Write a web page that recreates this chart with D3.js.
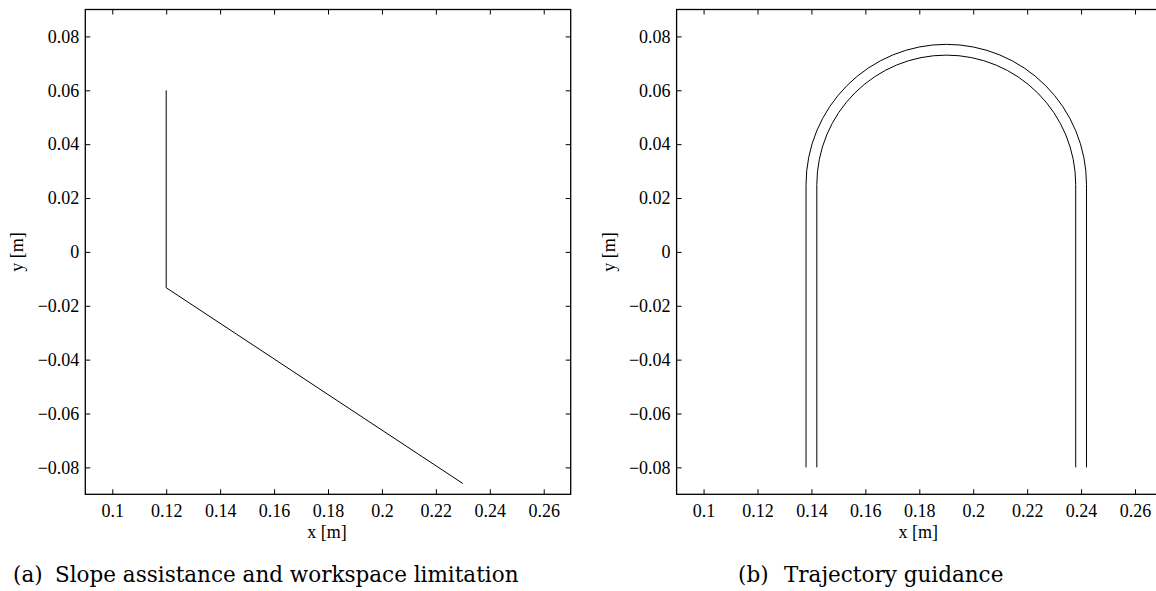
<!DOCTYPE html>
<html><head><meta charset="utf-8">
<script src="https://cdn.jsdelivr.net/npm/d3@7"></script>
<style>
body{margin:0;background:#fff;}
svg{display:block;}
text{fill:#000;}
</style></head>
<body>
<svg id="c" width="1156" height="591"></svg>
<script>
// ---- data ----
const xDomain = [0.09, 0.27];
const yDomain = [-0.09, 0.09];
const xTicks = [0.1, 0.12, 0.14, 0.16, 0.18, 0.2, 0.22, 0.24, 0.26];
const yTicks = [-0.08, -0.06, -0.04, -0.02, 0, 0.02, 0.04, 0.06, 0.08];
// panel (a): slope assistance / workspace limitation path
const slopeX = [0.12, 0.12, 0.23];
const slopeY = [0.06, -0.0133, -0.086];
// panel (b): trajectory guidance tube (two U-shaped boundaries)
const tubeCenterX = 0.19;
const tubeArcCenterY = 0.025;
const tubeBottomY = -0.08;
const tubeRadii = [0.052, 0.048];
const captions = ["(a)", "Slope assistance and workspace limitation", "(b)", "Trajectory guidance"];

// ---- layout ----
const svg = d3.select("#c");
const panels = [{left: 85.3, right: 570.7}, {left: 676.6, right: 1162}];
const plotTop = 9.5, plotBottom = 494.3;
const tickFont = "'Liberation Serif', 'Times New Roman', serif";
const capFont = "'DejaVu Serif', serif";

function fmt(v){
  if (v === 0) return "0";
  let s = String(+v.toFixed(2));
  return s.replace("-", "\u2212");
}

panels.forEach((p, i) => {
  const x = d3.scaleLinear().domain(xDomain).range([p.left, p.right]);
  const y = d3.scaleLinear().domain(yDomain).range([plotBottom, plotTop]);
  const g = svg.append("g");

  const tl = 5;
  const ax = d3.axisBottom(x).tickValues(xTicks).tickSize(-tl).tickFormat(fmt).tickPadding(10);
  const gx = g.append("g").attr("transform", `translate(0,${plotBottom})`).call(ax);
  const ay = d3.axisLeft(y).tickValues(yTicks).tickSize(-tl).tickFormat(fmt).tickPadding(6);
  const gy = g.append("g").attr("transform", `translate(${p.left},0)`).call(ay);
  const at = d3.axisTop(x).tickValues(xTicks).tickSize(-tl).tickFormat("");
  const gt = g.append("g").attr("transform", `translate(0,${plotTop})`).call(at);
  const ar = d3.axisRight(y).tickValues(yTicks).tickSize(-tl).tickFormat("");
  const gr = g.append("g").attr("transform", `translate(${p.right},0)`).call(ar);
  [gx, gy, gt, gr].forEach(a => {
    a.select(".domain").remove();
    a.selectAll(".tick line").attr("stroke", "#000").attr("stroke-width", 1);
    a.selectAll("text").style("font-family", tickFont).style("font-size", "18px").attr("fill", "#000");
  });

  g.append("rect").attr("x", p.left).attr("y", plotTop)
    .attr("width", p.right - p.left).attr("height", plotBottom - plotTop)
    .attr("fill", "none").attr("stroke", "#000").attr("stroke-width", 1.3);

  g.append("text").attr("x", (x(xDomain[0]) + x(xDomain[1])) / 2 - 1).attr("y", 538)
    .attr("text-anchor", "middle").style("font-family", tickFont).style("font-size", "18px").text("x [m]");
  g.append("text").attr("transform", `translate(${p.left - 62},${(plotTop + plotBottom) / 2}) rotate(-90)`)
    .attr("text-anchor", "middle").style("font-family", tickFont).style("font-size", "18px").text("y [m]");

  if (i === 0) {
    const pts = slopeX.map((v, k) => [v, slopeY[k]]);
    g.append("path").datum(pts)
      .attr("d", d3.line().x(d => x(d[0])).y(d => y(d[1])))
      .attr("fill", "none").attr("stroke", "#000").attr("stroke-width", 1);
  } else {
    tubeRadii.forEach(r => {
      const path = d3.path();
      const cx = x(tubeCenterX), cy = y(tubeArcCenterY);
      const rp = x(tubeCenterX + r) - cx;
      path.moveTo(x(tubeCenterX - r), y(tubeBottomY));
      path.lineTo(x(tubeCenterX - r), cy);
      path.arc(cx, cy, rp, Math.PI, 2 * Math.PI, false);
      path.lineTo(x(tubeCenterX + r), y(tubeBottomY));
      g.append("path").attr("d", path.toString())
        .attr("fill", "none").attr("stroke", "#000").attr("stroke-width", 1);
    });
  }
});

const capPos = [[13, 582], [55, 582], [738, 582], [784, 582]];
captions.forEach((c, k) => {
  svg.append("text").attr("x", capPos[k][0]).attr("y", capPos[k][1])
    .style("font-family", capFont).style("font-size", "21.5px").text(c);
});
</script>
</body></html>
